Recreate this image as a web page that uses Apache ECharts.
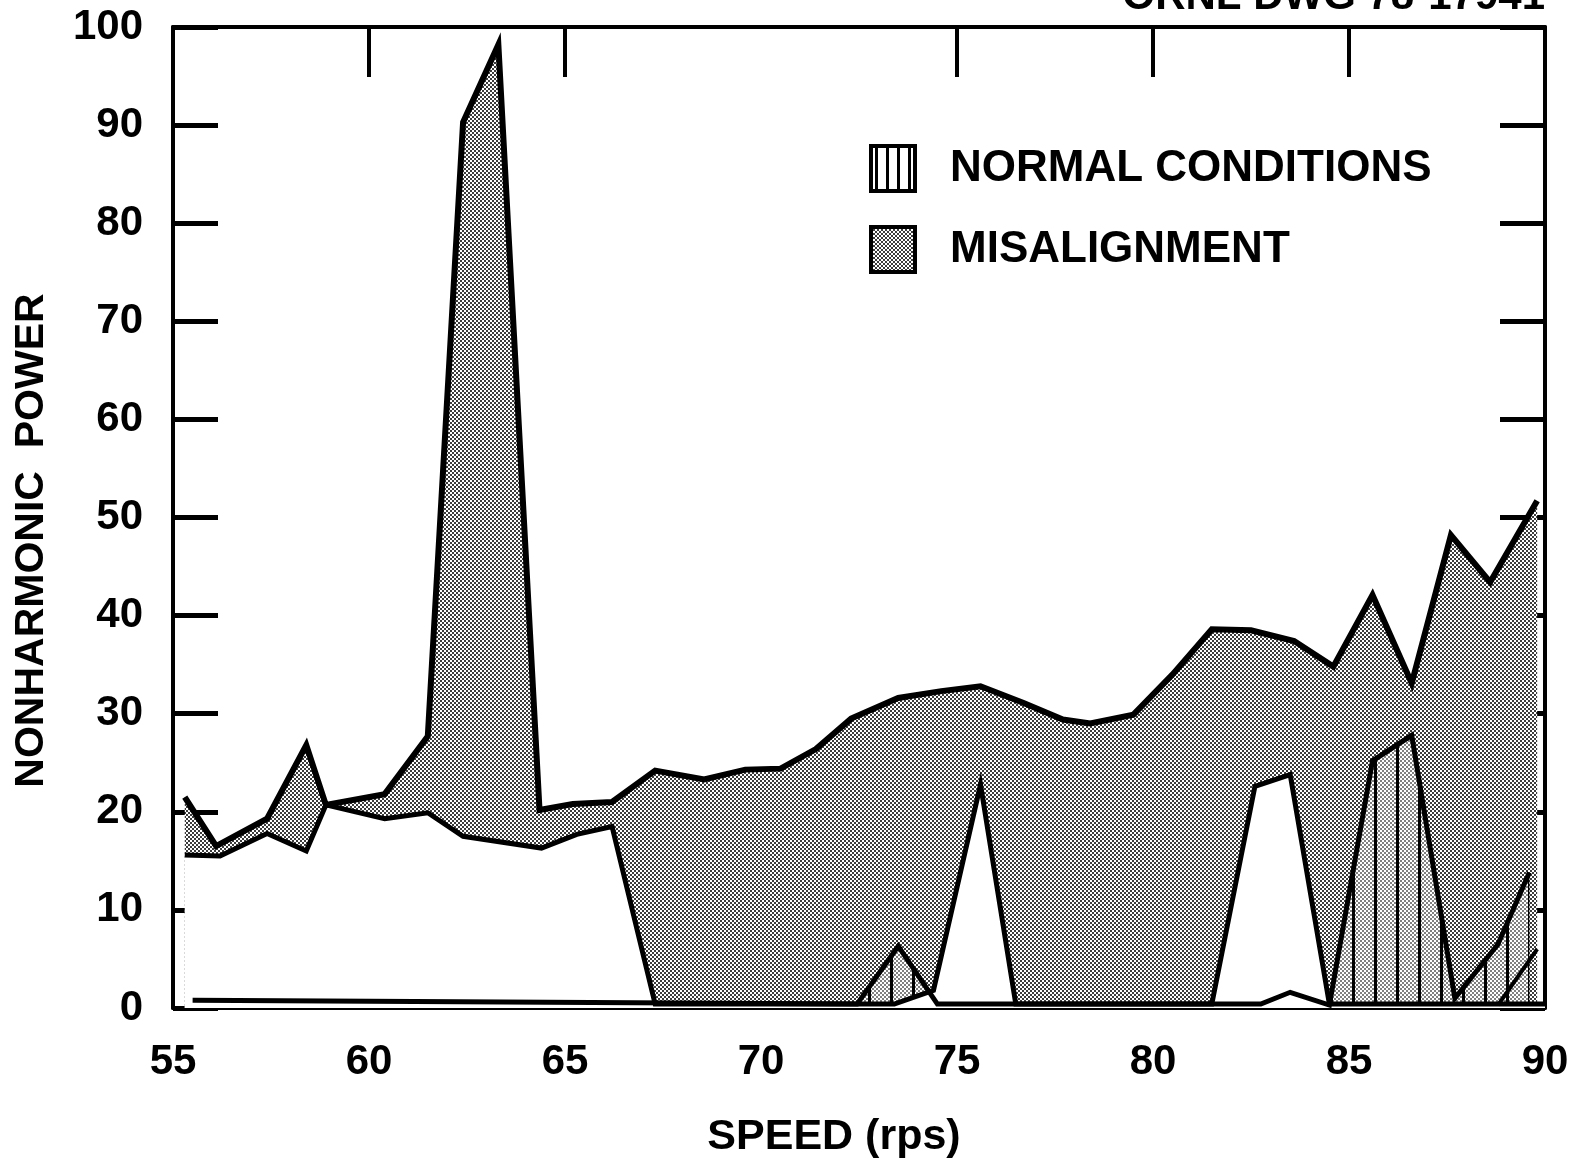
<!DOCTYPE html>
<html>
<head>
<meta charset="utf-8">
<title>Nonharmonic power vs speed</title>
<script src="https://cdn.jsdelivr.net/npm/echarts@6/dist/echarts.min.js"></script>
<style>
  html, body { margin: 0; padding: 0; background: #fff; }
  #chart { width: 1589px; height: 1168px; }
</style>
</head>
<body>
<div id="chart"></div>
<script>
// values: speed in rps, nonharmonic power
const misalignSpeed = [55.3, 56.1, 57.4, 58.4, 58.9, 60.4, 61.5, 62.4, 63.3, 64.35, 65.2, 66.2, 67.3, 68.55, 69.6, 70.5, 71.4, 72.3, 73.5, 74.6, 75.6, 76.7, 77.7, 78.4, 79.5, 80.5, 81.5, 82.5, 83.6, 84.6, 85.6, 86.6, 87.6, 88.6, 89.8];
const misalignHigh = [21.5, 16.5, 19.3, 26.8, 20.7, 21.8, 27.7, 90.3, 98.2, 20.2, 20.8, 21.0, 24.2, 23.3, 24.3, 24.4, 26.4, 29.5, 31.6, 32.3, 32.8, 31.1, 29.4, 29.0, 29.9, 34.0, 38.6, 38.5, 37.4, 34.8, 42.1, 33.1, 48.2, 43.4, 51.7];

const misalignLowSpeed = [55.3, 56.2, 57.4, 58.4, 58.9, 60.4, 61.5, 62.4, 64.4, 65.3, 66.2, 67.3, 73.4, 74.4, 75.6, 76.5, 81.5, 82.6, 83.5, 84.5, 90];
const misalignLow = [15.6, 15.5, 17.8, 16.0, 20.7, 19.3, 19.9, 17.5, 16.3, 17.7, 18.5, 0.4, 0.4, 1.8, 22.8, 0.4, 0.4, 22.6, 23.8, 0.4, 0.4];

const normalSpeed = [55.5, 72.45, 73.5, 74.5, 82.75, 83.5, 84.5, 85.6, 86.6, 87.7, 88.8, 89.6];
const normalHigh = [0.8, 0.4, 6.3, 0.4, 0.4, 1.6, 0.3, 25.2, 27.8, 1.0, 6.5, 13.8];

const normalLowSpeed = [88.8, 89.8];
const normalLow = [0.3, 6.0];

const topTicks = [60, 65, 75, 80, 85];

const FONT = '"Liberation Sans", Arial, sans-serif';

function pairs(xs, ys) {
  return xs.map((x, i) => [x, ys[i]]);
}

// dot screen, like the printed shading
function stipple() {
  const c = document.createElement('canvas');
  c.width = 4; c.height = 4;
  const g = c.getContext('2d');
  g.fillStyle = '#fff';
  g.fillRect(0, 0, 4, 4);
  g.fillStyle = '#3c3c3c';
  g.fillRect(0, 0, 2, 2);
  g.fillRect(2, 2, 2, 2);
  return c;
}

// vertical hatching
function hatch(step, bg) {
  const c = document.createElement('canvas');
  c.width = step; c.height = 8;
  const g = c.getContext('2d');
  if (bg) {
    g.fillStyle = bg;
    g.fillRect(0, 0, step, 8);
  }
  g.fillStyle = '#000';
  g.fillRect(Math.floor(step / 2) - 1, 0, 3, 8);
  return c;
}

const grayFill = { image: stipple(), repeat: 'repeat' };
const hatchFill = { image: hatch(22, 'rgba(255,255,255,0.35)'), repeat: 'repeat' };
const hatchIcon = { image: hatch(11, '#fff'), repeat: 'repeat' };

const labelStyle = { color: '#000', fontSize: 42, fontWeight: 'bold', fontFamily: FONT };
const axisLine = { show: true, onZero: false, lineStyle: { color: '#000', width: 4 } };

function areaSeries(name, data, fill, z) {
  return {
    name: name, type: 'line', data: data, symbol: 'none', z: z,
    lineStyle: { width: 0 },
    areaStyle: { color: fill, opacity: 1 },
    silent: true
  };
}

function lineSeries(name, data, width) {
  return {
    name: name, type: 'line', data: data, symbol: 'none', z: 10,
    lineStyle: { color: '#000', width: width, join: 'miter' },
    silent: true
  };
}

const chart = echarts.init(document.getElementById('chart'));
chart.setOption({
  animation: false,
  backgroundColor: '#fff',
  grid: { left: 173, right: 44, top: 27, bottom: 160, containLabel: false, outerBoundsMode: 'none' },
  legend: {
    orient: 'vertical',
    left: 864,
    top: 139,
    itemWidth: 44,
    itemHeight: 45,
    itemGap: 32,
    textStyle: { color: '#000', fontSize: 44, fontWeight: 'bold', fontFamily: FONT, padding: [0, 0, 0, 30] },
    data: [
      { name: 'NORMAL CONDITIONS', icon: 'rect', itemStyle: { color: hatchIcon, borderColor: '#000', borderWidth: 4 } },
      { name: 'MISALIGNMENT', icon: 'rect', itemStyle: { color: grayFill, borderColor: '#000', borderWidth: 4 } }
    ],
    selectedMode: false
  },
  graphic: [{
    type: 'text',
    right: 44,
    top: -24,
    style: { text: 'ORNL DWG 78-17941', font: 'bold 42px ' + FONT, fill: '#000' }
  }],
  xAxis: [
    {
      type: 'value', min: 55, max: 90, interval: 5, position: 'bottom',
      axisLine: axisLine,
      axisTick: { show: true, inside: true, length: 45, lineStyle: { color: '#000', width: 3 } },
      axisLabel: Object.assign({ margin: 33 }, labelStyle),
      splitLine: { show: false },
      name: 'SPEED (rps)', nameLocation: 'middle', nameGap: 108,
      nameTextStyle: { color: '#000', fontSize: 43, fontWeight: 'bold', fontFamily: FONT, padding: [0, 50, 0, 0] }
    },
    {
      type: 'value', min: 55, max: 90, interval: 5, position: 'top',
      axisLine: axisLine,
      axisTick: { show: true, inside: true, length: 50, customValues: topTicks, lineStyle: { color: '#000', width: 4 } },
      axisLabel: { show: false },
      splitLine: { show: false }
    }
  ],
  yAxis: [
    {
      type: 'value', min: 0, max: 100, interval: 10, position: 'left',
      axisLine: axisLine,
      axisTick: { show: true, inside: true, length: 45, lineStyle: { color: '#000', width: 5 } },
      axisLabel: Object.assign({ margin: 30 }, labelStyle),
      splitLine: { show: false },
      name: 'NONHARMONIC  POWER', nameLocation: 'middle', nameGap: 121,
      nameTextStyle: { color: '#000', fontSize: 41, fontWeight: 'bold', fontFamily: FONT, padding: [0, 46, 0, 0] }
    },
    {
      type: 'value', min: 0, max: 100, interval: 10, position: 'right',
      axisLine: axisLine,
      axisTick: { show: true, inside: true, length: 45, lineStyle: { color: '#000', width: 5 } },
      axisLabel: { show: false },
      splitLine: { show: false }
    }
  ],
  series: [
    areaSeries('MISALIGNMENT', pairs(misalignSpeed, misalignHigh), grayFill, 1),
    areaSeries('NORMAL CONDITIONS', pairs(normalSpeed, normalHigh), hatchFill, 2),
    areaSeries('misalign low', pairs(misalignLowSpeed, misalignLow), '#fff', 3),
    lineSeries('misalign high line', pairs(misalignSpeed, misalignHigh), 6),
    lineSeries('misalign low line', pairs(misalignLowSpeed, misalignLow), 5),
    lineSeries('normal high line', pairs(normalSpeed, normalHigh), 5),
    lineSeries('normal low line', pairs(normalLowSpeed, normalLow), 4)
  ]
});
</script>
</body>
</html>
